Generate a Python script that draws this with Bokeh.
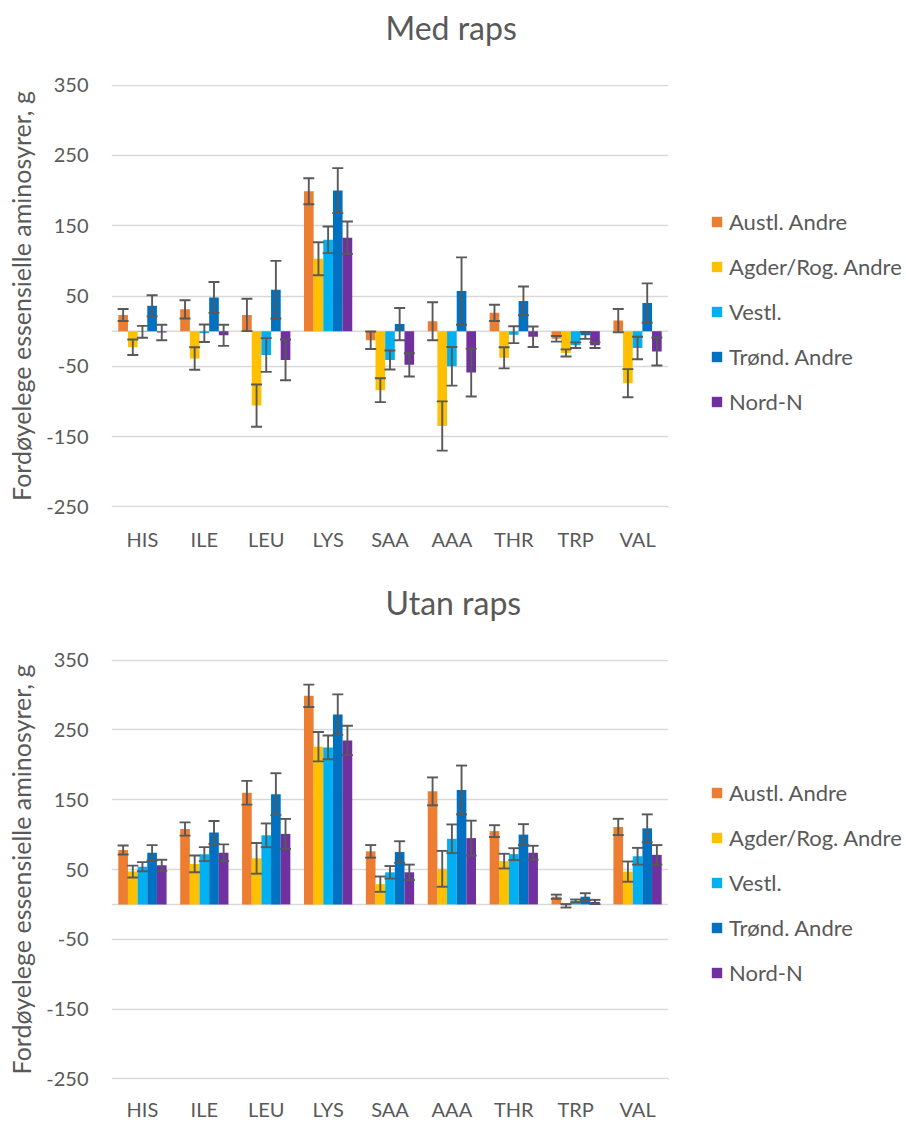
from bokeh.plotting import figure
from bokeh.models import (ColumnDataSource, Whisker, TeeHead, Legend, LegendItem,
                          FixedTicker, Span, Range1d, FactorRange)
from bokeh.transform import dodge
from bokeh.layouts import column, row
from bokeh.embed import file_html
from bokeh.resources import INLINE

categories = ["HIS", "ILE", "LEU", "LYS", "SAA", "AAA", "THR", "TRP", "VAL"]
series_names = ["Austl. Andre", "Agder/Rog. Andre", "Vestl.", "Trønd. Andre", "Nord-N"]
colors = ["#ED7D31", "#FFC000", "#00B0F0", "#0070C0", "#7030A0"]
y_ticks = [-250, -150, -50, 50, 150, 250, 350]
y_tick_labels = ["-250", "-150", "-50", "50", "150", "250", "350"]

# Med raps
med_austl = [23, 31, 23, 199, -13, 14, 26, -11, 15]
med_austl_err = [8.5, 13, 23, 18.5, 12.5, 27, 11.5, 4, 16.5]
med_agder = [-23, -39, -106, 103, -84, -135, -38, -31, -74]
med_agder_err = [11, 16, 30, 23.5, 17, 35, 15, 5, 20]
med_vestl = [-1, -3, -34, 130, -41, -50, -5, -20, -24]
med_vestl_err = [8.5, 12.5, 24, 19, 13.5, 27.5, 12, 4, 16]
med_trond = [36, 48, 59, 200, 10, 57, 43, -6, 40]
med_trond_err = [15, 22, 41, 32, 23, 48, 20.5, 5, 28]
med_nord = [-2, -6, -41, 133, -48, -59, -8, -20, -29]
med_nord_err = [11, 15, 29, 23, 16.5, 34, 14.5, 4, 20]

# Utan raps
utan_austl = [78, 108, 160, 299, 76, 162, 105, 11, 111]
utan_austl_err = [6.5, 9.5, 17, 16, 9, 20, 8.5, 3, 11.7]
utan_agder = [47, 58, 66, 226, 29, 51, 62, -2, 47]
utan_agder_err = [8.5, 12, 22, 21, 11, 25.7, 10.5, 2.5, 14.5]
utan_vestl = [54, 72, 99, 225, 46, 94, 72, 5, 69]
utan_vestl_err = [6.5, 10, 17, 17, 9, 20.6, 8.5, 2, 12]
utan_trond = [74, 103, 158, 272, 75, 164, 100, 11, 109]
utan_trond_err = [11, 16.5, 30, 29, 15.5, 35, 15, 5, 20]
utan_nord = [56, 74, 101, 235, 46, 95, 74, 3.5, 71]
utan_nord_err = [8, 12, 21.5, 21, 11, 25, 10, 3, 14]

med_values = [med_austl, med_agder, med_vestl, med_trond, med_nord]
med_errors = [med_austl_err, med_agder_err, med_vestl_err, med_trond_err, med_nord_err]
utan_values = [utan_austl, utan_agder, utan_vestl, utan_trond, utan_nord]
utan_errors = [utan_austl_err, utan_agder_err, utan_vestl_err, utan_trond_err, utan_nord_err]

FONT = "Lato"
TXT = "#595959"
GRID = "#D9D9D9"
offsets = [-0.312, -0.156, 0.0, 0.156, 0.312]
BAR_W = 0.156


def make_chart(title, values, errors, height, btop, bbottom, xstandoff):
    p = figure(width=668, height=height,
               x_range=FactorRange(*categories), y_range=Range1d(-251, 351),
               output_backend="svg", toolbar_location=None,
               min_border_left=111, min_border_right=0,
               min_border_top=btop, min_border_bottom=bbottom)
    p.outline_line_color = None
    p.background_fill_color = "white"
    p.border_fill_color = "white"

    p.title.text = title
    p.title.align = "left"
    p.title.offset = 274
    p.title.text_font = FONT
    p.title.text_font_size = "32px"
    p.title.text_font_style = "normal"
    p.title.text_color = TXT
    if "padding" in p.title.properties():
        p.title.padding = dict(left=0, right=0, top=0, bottom=33)

    p.xgrid.grid_line_color = None
    p.ygrid.grid_line_color = GRID
    p.ygrid.grid_line_width = 1.5
    p.yaxis.ticker = FixedTicker(ticks=y_ticks)
    p.ygrid.ticker = FixedTicker(ticks=y_ticks)
    p.yaxis.major_label_overrides = {t: s for t, s in zip(y_ticks, y_tick_labels)}

    for ax in (p.xaxis, p.yaxis):
        ax.axis_line_color = None
        ax.major_tick_line_color = None
        ax.minor_tick_line_color = None
        ax.major_tick_out = 0
        ax.major_tick_in = 0
        ax.minor_tick_out = 0
        ax.major_label_text_font = FONT
        ax.major_label_text_font_size = "20px"
        ax.major_label_text_color = TXT
    p.xaxis.major_label_standoff = xstandoff
    p.yaxis.major_label_standoff = 23
    p.yaxis.axis_label = "Fordøyelege essensielle aminosyrer, g"
    p.yaxis.axis_label_text_font = FONT
    p.yaxis.axis_label_text_font_size = "25px"
    p.yaxis.axis_label_text_font_style = "normal"
    p.yaxis.axis_label_text_color = TXT
    p.yaxis.axis_label_standoff = 7

    zero = Span(location=0, dimension="width", line_color=GRID, line_width=1.5, level="underlay")
    p.add_layout(zero)

    for j, name in enumerate(series_names):
        vals = values[j]
        errs = errors[j]
        src = ColumnDataSource(dict(
            cat=categories, val=vals,
            upper=[v + e for v, e in zip(vals, errs)],
            lower=[v - e for v, e in zip(vals, errs)]))
        p.vbar(x=dodge("cat", offsets[j], range=p.x_range), top="val", bottom=0,
               width=BAR_W, source=src, fill_color=colors[j], line_color=None)
        w = Whisker(base=dodge("cat", offsets[j], range=p.x_range), upper="upper", lower="lower",
                    source=src, dimension="height", line_color=TXT, line_width=1.9,
                    upper_head=TeeHead(size=11, line_color=TXT, line_width=1.9),
                    lower_head=TeeHead(size=11, line_color=TXT, line_width=1.9),
                    level="overlay")
        p.add_layout(w)
    return p


def make_legend(height, ybottom):
    lf = figure(width=236, height=height, x_range=Range1d(0, 1), y_range=Range1d(0, 1),
                output_backend="svg", toolbar_location=None, min_border=0,
                x_axis_location=None, y_axis_location=None)
    lf.outline_line_color = None
    lf.grid.grid_line_color = None
    lf.background_fill_color = "white"
    lf.border_fill_color = "white"
    items = []
    for name, c in zip(series_names, colors):
        # off-screen stand-in renderer, only used for the legend swatch
        r = lf.vbar(x=[-50], top=[-50], bottom=-51, width=0.1, fill_color=c, line_color=None)
        items.append(LegendItem(label=name, renderers=[r]))
    legend = Legend(items=items, location=(42, ybottom), orientation="vertical",
                    padding=0, margin=0, border_line_color=None,
                    background_fill_alpha=0,
                    glyph_width=13, glyph_height=13, label_height=26,
                    spacing=18, label_standoff=6,
                    label_text_font=FONT, label_text_font_size="22px",
                    label_text_color=TXT)
    lf.add_layout(legend, "center")
    return lf


H1, H2 = 575, 548
p1 = make_chart("Med raps", med_values, med_errors, H1, 84, 68, 19)
p2 = make_chart("Utan raps", utan_values, utan_errors, H2, 84, 41, 17)
l1 = make_legend(H1, 92)
l2 = make_legend(H2, 93)
layout = column(row(p1, l1, spacing=0), row(p2, l2, spacing=0), spacing=0)

open("out.html", "w").write(file_html(layout, INLINE))
